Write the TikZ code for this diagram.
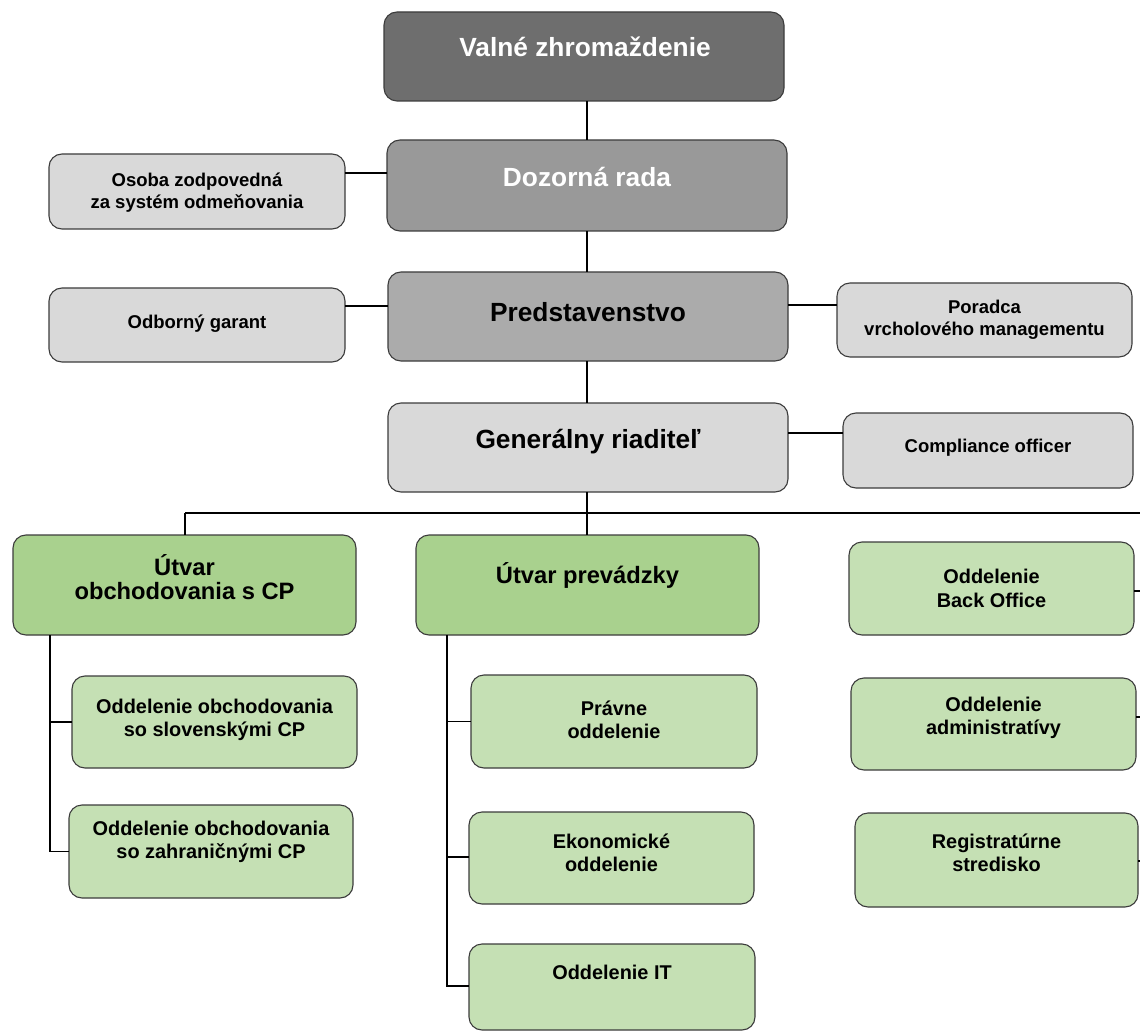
\documentclass[tikz,border=0pt]{standalone}
\usepackage{fontspec}
\setmainfont{Liberation Sans}
\definecolor{bordc}{HTML}{3C3C3C}
\definecolor{cvz}{HTML}{6E6E6E}
\definecolor{cdr}{HTML}{999999}
\definecolor{cpr}{HTML}{ABABAB}
\definecolor{clg}{HTML}{D9D9D9}
\definecolor{cgd}{HTML}{A9D18E}
\definecolor{cgl}{HTML}{C5E0B4}
\newcommand\orgbox[6]{\node[box,#6,minimum width={(#4-#2)*1pt},minimum height={(#5-#3)*1pt}] (#1) at ({(#2+#4)/2},{(#3+#5)/2}) {};}
\begin{document}
\begin{tikzpicture}[x=1pt,y=-1pt,
  box/.style={draw=bordc, line width=1.1pt, rounded corners=13pt, inner sep=0pt, outer sep=0pt},
  conn/.style={draw=black, line width=1.8pt},
  big/.style={font=\bfseries\fontsize{26.3}{30}\selectfont, align=center, inner sep=0pt},
  small/.style={font=\bfseries\fontsize{18.5}{22}\selectfont, align=center, inner sep=0pt},
  mid/.style={font=\bfseries\fontsize{23.7}{24.3}\selectfont, align=center, inner sep=0pt},
  dept/.style={font=\bfseries\fontsize{19.9}{23.3}\selectfont, align=center, inner sep=0pt}]
\useasboundingbox (0,0) rectangle (1140,1032);
\fill[white] (0,0) rectangle (1140,1032);
% boxes
\orgbox{vz}{384}{12}{784}{101}{fill=cvz}
\orgbox{dr}{387}{140}{787}{231}{fill=cdr}
\orgbox{pr}{388}{272}{788}{361}{fill=cpr}
\orgbox{gr}{388}{403}{788}{492}{fill=clg}
\orgbox{os}{49}{154}{345}{229}{fill=clg}
\orgbox{og}{49}{288}{345}{362}{fill=clg}
\orgbox{po}{837}{283}{1132}{357}{fill=clg}
\orgbox{co}{843}{413}{1133}{488}{fill=clg}
\orgbox{uo}{13}{535}{356}{635}{fill=cgd}
\orgbox{up}{416}{535}{759}{635}{fill=cgd}
\orgbox{sk}{72}{676}{357}{768}{fill=cgl}
\orgbox{za}{69}{805}{353}{898}{fill=cgl}
\orgbox{pv}{471}{675}{757}{768}{fill=cgl}
\orgbox{ek}{469}{812}{754}{904}{fill=cgl}
\orgbox{it}{469}{944}{755}{1030}{fill=cgl}
\orgbox{bo}{849}{542}{1134}{635}{fill=cgl}
\orgbox{ad}{851}{678}{1136}{770}{fill=cgl}
\orgbox{rs}{855}{813}{1138}{907}{fill=cgl}
% texts
\node[big,white] (vz-t) at (585,47) {Valné zhromaždenie};
\node[big,white] (dr-t) at (587,177) {Dozorná rada};
\node[big] (pr-t) at (588,312) {Predstavenstvo};
\node[big] (gr-t) at (588,442) {Generálny riaditeľ};
\node[small] (os-t) at (197,192.5) {Osoba zodpovedná\\za systém odmeňovania};
\node[small] (og-t) at (197,324) {Odborný garant};
\node[small] (po-t) at (984.5,319.5) {Poradca\\vrcholového managementu};
\node[small] (co-t) at (988,448) {Compliance officer};
\node[mid] (uo-t) at (184.5,577) {Útvar\\obchodovania s CP};
\node[mid] (up-t) at (587.5,575) {Útvar prevádzky};
\node[dept] (sk-t) at (214.5,720) {Oddelenie obchodovania\\so slovenskými CP};
\node[dept] (za-t) at (211,841.5) {Oddelenie obchodovania\\so zahraničnými CP};
\node[dept] (pv-t) at (614,720) {Právne\\oddelenie};
\node[dept] (ek-t) at (611.5,853) {Ekonomické\\oddelenie};
\node[dept] (it-t) at (612,972) {Oddelenie IT};
\node[dept] (bo-t) at (991.5,588.5) {Oddelenie\\Back Office};
\node[dept] (ad-t) at (993.5,717.5) {Oddelenie\\administratívy};
\node[dept] (rs-t) at (996.5,852.5) {Registratúrne\\stredisko};
% helper coordinates
\coordinate (sp) at (587,0);
\coordinate (bus) at (0,513);
\coordinate (busL) at (185,513);
\coordinate (busR) at (1140,513);
\coordinate (yos) at (0,173);
\coordinate (yog) at (0,306);
\coordinate (ypo) at (0,305);
\coordinate (yco) at (0,433);
\coordinate (vl) at (50,0);
\coordinate (vm) at (447,0);
% connectors
\draw[conn] (vz.south -| sp) -- (dr.north -| sp);
\draw[conn] (dr.south -| sp) -- (pr.north -| sp);
\draw[conn] (pr.south -| sp) -- (gr.north -| sp);
\draw[conn] (gr.south -| sp) -- (bus -| sp);
\draw[conn] (busL) -- (busR);
\draw[conn] (busL) -- (uo.north -| busL);
\draw[conn] (bus -| sp) -- (up.north -| sp);
\draw[conn] (os.east |- yos) -- (dr.west |- yos);
\draw[conn] (og.east |- yog) -- (pr.west |- yog);
\draw[conn] (pr.east |- ypo) -- (po.west |- ypo);
\draw[conn] (gr.east |- yco) -- (co.west |- yco);
\draw[conn] (uo.south -| vl) -- (vl |- za.west) -- (za.west);
\draw[conn] (vl |- sk.west) -- (sk.west);
\draw[conn] (up.south -| vm) -- (vm |- 0,986) -- (it.west |- 0,986);
\draw[conn] (vm |- pv.west) -- (pv.west);
\draw[conn] (vm |- 0,857) -- (ek.west |- 0,857);
\coordinate (boR) at (1140,591);
\coordinate (adR) at (1140,717);
\coordinate (rsR) at (1140,861);
\draw[conn] (bo.east |- boR) -- (boR);
\draw[conn] (ad.east |- adR) -- (adR);
\draw[conn] (rs.east |- rsR) -- (rsR);
\end{tikzpicture}
\end{document}
